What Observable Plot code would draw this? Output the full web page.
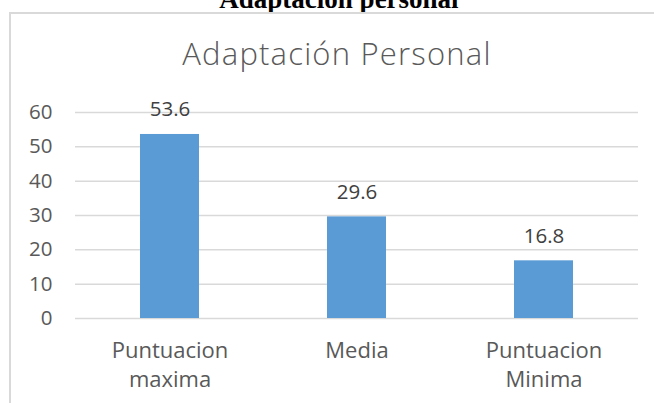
<!DOCTYPE html>
<html>
<head>
<meta charset="utf-8">
<script src="https://cdn.jsdelivr.net/npm/d3@7"></script>
<script src="https://cdn.jsdelivr.net/npm/@observablehq/plot@0.6"></script>
<style>
  html, body { margin: 0; padding: 0; background: #fff; width: 654px; height: 403px; overflow: hidden; }
  #wrap { position: relative; width: 654px; height: 403px; }
  #doctitle { position: absolute; left: 0; width: 678px; top: -17px; text-align: center;
    font-family: "Liberation Serif", "Times New Roman", serif; font-weight: bold; font-size: 27px; line-height: 32px; color: #000; }
  #box { position: absolute; left: 9px; top: 12px; width: 700px; height: 500px; border-left: 2px solid #d9d9d9; border-top: 2px solid #d9d9d9; box-sizing: border-box; }
  #charttitle { position: absolute; left: 0; width: 674px; top: 33px; text-align: center;
    font-family: "Open Sans", sans-serif; font-weight: 300; font-size: 31px; letter-spacing: 1.2px; line-height: 40px; color: #595959; }
  #chart { position: absolute; left: 0; top: 90px; }
</style>
</head>
<body>
<div id="wrap">
  <div id="doctitle">Adaptación personal</div>
  <div id="box"></div>
  <div id="charttitle">Adaptación Personal</div>
  <div id="chart"></div>
</div>
<script>
const categories = ["Puntuacion\nmaxima", "Media", "Puntuacion\nMinima"];
const values = [53.6, 29.6, 16.8];
const yTicks = [0, 10, 20, 30, 40, 50, 60];

const data = categories.map((c, i) => ({category: c, value: values[i]}));
const textColor = "#595959";

const chart = Plot.plot({
  width: 654,
  height: 313,
  marginLeft: 75,
  marginRight: 16,
  marginTop: 22,
  marginBottom: 85,
  style: {fontFamily: "'Open Sans', sans-serif", background: "transparent"},
  x: {domain: categories, paddingInner: 0.686, paddingOuter: 0.343, axis: null},
  y: {domain: [0, 60], axis: null},
  marks: [
    Plot.gridY(yTicks, {stroke: "#d9d9d9", strokeOpacity: 1, strokeWidth: 1.5}),
    Plot.barY(data, {x: "category", y: "value", fill: "#5b9bd5"}),
    Plot.text(data, {x: "category", y: "value", text: d => d.value.toFixed(1), lineAnchor: "bottom", dy: -18, fontSize: 20.5, fill: "#404040"}),
    Plot.axisY(yTicks, {tickSize: 0, tickPadding: 23, fontSize: 20.5, fill: textColor, tickFormat: d => String(d), label: null}),
    Plot.axisX({tickSize: 0, tickPadding: 19, fontSize: 22, lineHeight: 1.32, fill: textColor, label: null})
  ]
});
document.getElementById("chart").appendChild(chart);
</script>
</body>
</html>
